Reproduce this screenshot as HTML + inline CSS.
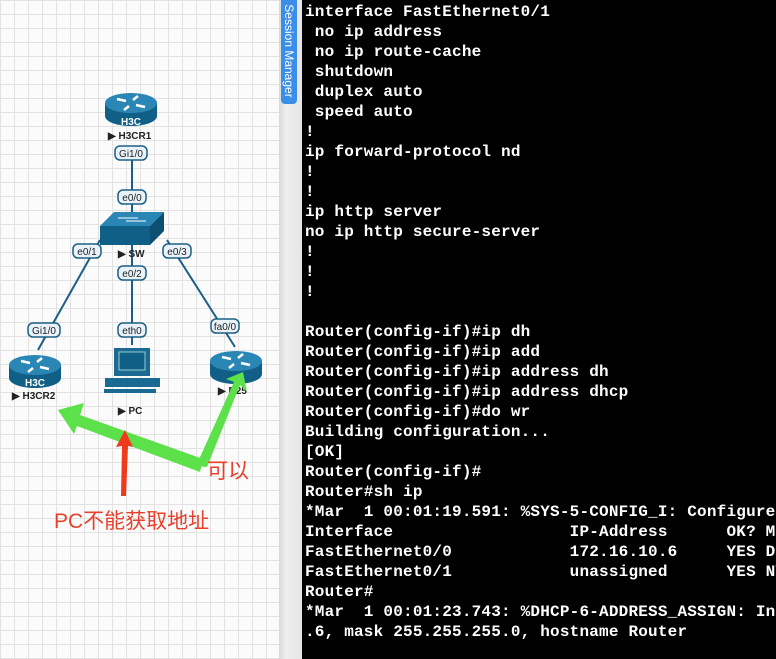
<!DOCTYPE html>
<html><head><meta charset="utf-8"><style>
body{margin:0;width:776px;height:659px;overflow:hidden;position:relative;background:#fff;font-family:"Liberation Sans",sans-serif}
#grid{position:absolute;left:0;top:0;width:279px;height:659px;background-color:#fbfbfb;background-image:linear-gradient(#e2e2e2 1px,transparent 1px),linear-gradient(90deg,#e2e2e2 1px,transparent 1px);background-size:14px 14px}
#strip{position:absolute;left:279px;top:0;width:23px;height:659px;background:linear-gradient(90deg,#d8d8d8,#eeeeee 30%,#e6e6e6)}
#tab{position:absolute;left:281px;top:0;width:16px;height:104px;background:#3b8ee8;border-radius:0 0 4px 4px}
#tab span{position:absolute;left:-44px;top:44px;width:104px;transform:rotate(90deg);color:#fff;font-size:12px;white-space:nowrap;text-align:center}
#term{position:absolute;left:302px;top:0;width:474px;height:659px;background:#000;color:#fff;font-family:"Liberation Mono",monospace;font-size:16px;font-weight:bold;letter-spacing:0.2px;line-height:20px;white-space:pre;padding:2px 0 0 3px;box-sizing:border-box;overflow:hidden}
</style></head><body>
<div id="grid"></div>
<svg style="position:absolute;left:0;top:0" width="279" height="659" font-family="Liberation Sans,sans-serif">
<defs>
<g id="rt"><ellipse cx="0" cy="10" rx="26" ry="10" fill="#0f5f86"/><rect x="-26" y="-3" width="52" height="13" fill="#0f5f86"/><ellipse cx="0" cy="-3" rx="26" ry="10" fill="#2a86b5"/><path d="M-14,-7 l9,2 M14,1 l-9,-2 M-7,4 l5,-4 M7,-10 l-5,4" stroke="#fff" stroke-width="2.5"/></g>
</defs>
<g stroke="#1c5f85" stroke-width="2">
<line x1="132" y1="150" x2="132" y2="215"/>
<line x1="100" y1="240" x2="38" y2="350"/>
<line x1="132" y1="240" x2="132" y2="345"/>
<line x1="167" y1="240" x2="235" y2="347"/>
</g>
<use href="#rt" x="131" y="106"/>
<text x="131" y="125" fill="#fff" font-size="10" font-weight="bold" text-anchor="middle">H3C</text>
<text x="108" y="139" font-size="10" font-weight="bold" fill="#222">▶ H3CR1</text>
<use href="#rt" x="35" y="368"/>
<text x="35" y="386" fill="#fff" font-size="10" font-weight="bold" text-anchor="middle">H3C</text>
<text x="12" y="399" font-size="10" font-weight="bold" fill="#222">▶ H3CR2</text>
<use href="#rt" x="236" y="364"/>
<text x="218" y="394" font-size="10" font-weight="bold" fill="#222">▶ R25</text>
<polygon points="100,226 114,212 164,212 150,226" fill="#2a86b5"/>
<polygon points="100,226 150,226 150,245 100,245" fill="#0f5f86"/>
<polygon points="150,226 164,212 164,231 150,245" fill="#0d4f70"/>
<path d="M118,218 h20 M126,221 h20" stroke="#fff" stroke-width="1"/>
<text x="118" y="257" font-size="10" font-weight="bold" fill="#222">▶ SW</text>
<rect x="114" y="348" width="36" height="28" fill="#1a6a94"/><rect x="119" y="352" width="26" height="18" fill="#0f5f86" stroke="#9cc" stroke-width="1"/>
<rect x="105" y="378" width="55" height="9" fill="#1a6a94"/><rect x="104" y="389" width="52" height="4" fill="#1a6a94"/>
<text x="118" y="414" font-size="10" font-weight="bold" fill="#222">▶ PC</text>
<g font-size="10" text-anchor="middle" fill="#222" stroke-width="1.5">
<rect x="115" y="146" width="32" height="14" rx="5" fill="#e8f2f8" stroke="#1c5f85"/><text x="131" y="157">Gi1/0</text>
<rect x="118" y="190" width="28" height="14" rx="5" fill="#e8f2f8" stroke="#1c5f85"/><text x="132" y="201">e0/0</text>
<rect x="73" y="244" width="28" height="14" rx="5" fill="#e8f2f8" stroke="#1c5f85"/><text x="87" y="255">e0/1</text>
<rect x="163" y="244" width="28" height="14" rx="5" fill="#e8f2f8" stroke="#1c5f85"/><text x="177" y="255">e0/3</text>
<rect x="118" y="266" width="28" height="14" rx="5" fill="#e8f2f8" stroke="#1c5f85"/><text x="132" y="277">e0/2</text>
<rect x="118" y="323" width="28" height="14" rx="5" fill="#e8f2f8" stroke="#1c5f85"/><text x="132" y="334">eth0</text>
<rect x="28" y="323" width="32" height="14" rx="5" fill="#e8f2f8" stroke="#1c5f85"/><text x="44" y="334">Gi1/0</text>
<rect x="211" y="319" width="28" height="14" rx="5" fill="#e8f2f8" stroke="#1c5f85"/><text x="225" y="330">fa0/0</text>
</g>
<g fill="#5ce14a">
<polygon points="203,459 80,415 84,403 58,410 74,434 77,426 200,472"/>
<polygon points="196,466 234,382 226,379 243,372 247,392 240,385 207,467"/>
</g>
<polygon points="121,496 122,446 116,447 125,430 133,447 128,446 126,496" fill="#f03a1c"/>
<text x="207" y="478" fill="#e8402a" font-size="21" font-family="Liberation Sans,Noto Sans CJK SC,sans-serif">可以</text>
<text x="54" y="528" fill="#e8402a" font-size="21" font-family="Liberation Sans,Noto Sans CJK SC,sans-serif">PC不能获取地址</text>
</svg>
<div id="strip"></div>
<div id="tab"><span>Session Manager</span></div>
<div id="term">interface FastEthernet0/1
 no ip address
 no ip route-cache
 shutdown
 duplex auto
 speed auto
!
ip forward-protocol nd
!
!
ip http server
no ip http secure-server
!
!
!

Router(config-if)#ip dh
Router(config-if)#ip add
Router(config-if)#ip address dh
Router(config-if)#ip address dhcp
Router(config-if)#do wr
Building configuration...
[OK]
Router(config-if)#
Router#sh ip
*Mar  1 00:01:19.591: %SYS-5-CONFIG_I: Configured
Interface                  IP-Address      OK? Me
FastEthernet0/0            172.16.10.6     YES DH
FastEthernet0/1            unassigned      YES NV
Router#
*Mar  1 00:01:23.743: %DHCP-6-ADDRESS_ASSIGN: Int
.6, mask 255.255.255.0, hostname Router</div>
</body></html>
